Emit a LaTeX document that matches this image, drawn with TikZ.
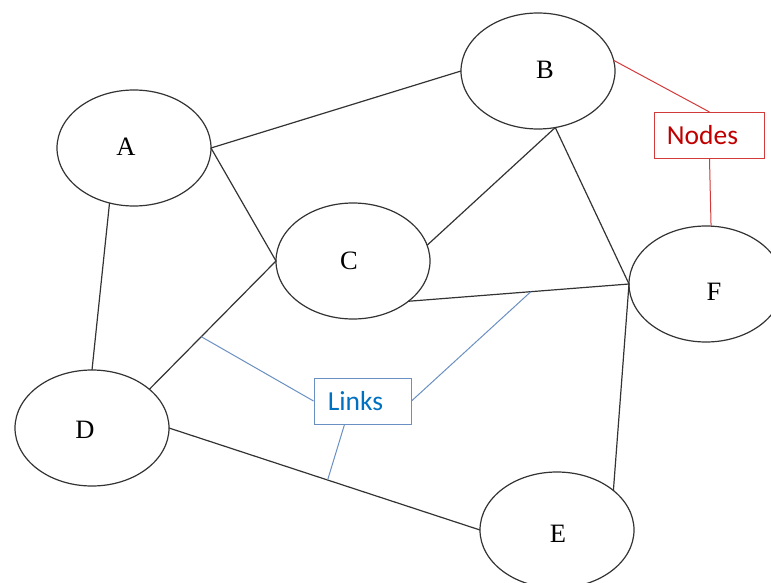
\documentclass[tikz,border=0pt]{standalone}
\usepackage{fontspec}
\setmainfont{Liberation Serif}
\newfontfamily\calib{Carlito}
\usetikzlibrary{shapes.geometric,calc}
\definecolor{edgegray}{HTML}{333333}
\definecolor{nodered}{HTML}{C00000}
\definecolor{nodeline}{HTML}{D33A3A}
\definecolor{linkblue}{HTML}{0070C0}
\definecolor{linkline}{HTML}{6A8FC2}
\tikzset{
  vert/.style={ellipse,draw=edgegray,line width=1.2pt,minimum width=154pt,minimum height=116pt,inner sep=0pt,outer sep=0pt},
  vlabel/.style={font=\fontsize{26.5}{30}\selectfont,inner sep=0pt},
  edge/.style={draw=edgegray,line width=1.2pt},
  redbox/.style={draw=nodeline,line width=1pt,minimum width=110pt,minimum height=46pt,inner sep=0pt,text=nodered,font=\calib\fontsize{27.5}{30}\selectfont},
  bluebox/.style={draw=linkline,line width=1pt,minimum width=97pt,minimum height=46pt,inner sep=0pt,text=linkblue,font=\calib\fontsize{27.5}{30}\selectfont},
  redline/.style={draw=nodeline,line width=1pt},
  blueline/.style={draw=linkline,line width=1pt}
}
\begin{document}
\begin{tikzpicture}[x=1pt,y=-1pt]
\useasboundingbox (0,0) rectangle (771,583);
% vertices
\node[vert] (A) at (134,148) {};
\node[vert] (B) at (538,71) {};
\node[vert] (C) at (353,261) {};
\node[vert] (D) at (92,428) {};
\node[vert] (E) at (557,530) {};
\node[vert] (F) at (706,284) {};
% vertex labels
\node[vlabel] (la) at (126,147) {A};
\node[vlabel] (lb) at (545,70) {B};
\node[vlabel] (lc) at (349,261) {C};
\node[vlabel] (ld) at (85,430) {D};
\node[vlabel] (le) at (558,534) {E};
\node[vlabel] (lf) at (714,292) {F};
% edges
\draw[edge] (A.east) -- (B.west);
\draw[edge] (A.east) -- (C.west);
\draw[edge] (A.-114) -- (D.north);
\draw[edge] (B.-73) -- (C.12);
\draw[edge] (B.-73) -- (F.west);
\draw[edge] (C.-36) -- coordinate[pos=0.555] (cf) (F.west);
\draw[edge] (C.west) -- coordinate[pos=0.59] (cd) (D.34);
\draw[edge] (D.east) -- coordinate[pos=0.51] (de) (E.west);
\draw[edge] (F.west) -- (E.35);
% callout boxes
\node[redbox] (Nodes) at (709.5,135.5) {Nodes\kern14pt};
\node[bluebox] (Links) at (362.5,401) {Links\kern14pt};
\draw[redline] (B.8) -- (Nodes.north);
\draw[redline] (Nodes.south) -- (F.85);
\draw[blueline] (Links.west) -- (cd);
\draw[blueline] (Links.east) -- (cf);
\draw[blueline] ($(Links.south)+(-18,0)$) -- (de);
\end{tikzpicture}
\end{document}
